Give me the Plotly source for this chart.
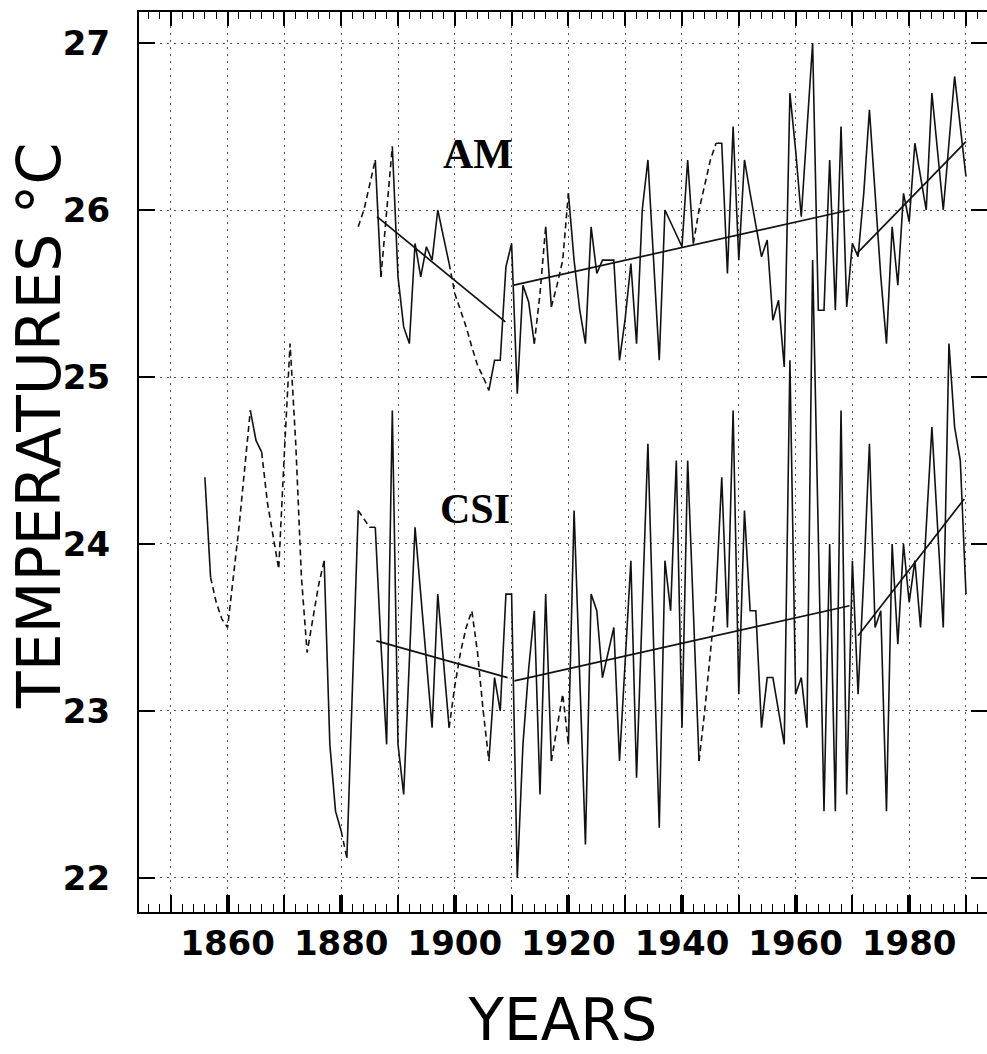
import plotly.graph_objects as go

# ---------------- data ----------------
am_years = list(range(1883, 1991))
am_values = [
    25.90, 26.00, 26.15, 26.30, 25.60, 26.00, 26.38,            # 1883-1889
    25.60, 25.30, 25.20, 25.80, 25.60, 25.78, 25.70, 26.00, 25.85, 25.68,  # 1890-1899
    25.50, 25.40, 25.30, 25.18, 25.07, 25.00, 24.92, 25.10, 25.10, 25.66,  # 1900-1909
    25.80, 24.90, 25.55, 25.45, 25.20, 25.50, 25.90, 25.42, 25.55, 25.70,  # 1910-1919
    26.10, 25.70, 25.40, 25.20, 25.90, 25.62, 25.70, 25.70, 25.70, 25.10,  # 1920-1929
    25.35, 25.68, 25.20, 26.00, 26.30, 25.70, 25.10, 26.00, 25.93, 25.86,  # 1930-1939
    25.78, 26.30, 25.80, 26.00, 26.15, 26.30, 26.40, 26.40, 25.62, 26.50,  # 1940-1949
    25.70, 26.30, 26.10, 25.90, 25.72, 25.82, 25.34, 25.46, 25.06, 26.70,  # 1950-1959
    26.36, 25.96, 26.50, 27.00, 25.40, 25.40, 26.30, 25.40, 26.50, 25.42,  # 1960-1969
    25.80, 25.72, 26.10, 26.60, 26.10, 25.60, 25.20, 25.90, 25.55, 26.10,  # 1970-1979
    25.93, 26.40, 26.20, 26.00, 26.70, 26.35, 26.00, 26.40, 26.80, 26.50,  # 1980-1989
    26.20,                                                                  # 1990
]
am_dashed_spans = [(1883, 1886), (1887, 1889), (1899, 1906), (1914, 1916),
                   (1917, 1920), (1942, 1946)]

csi_years = list(range(1856, 1991))
csi_values = [
    24.40, 23.80, 23.65, 23.55,                                              # 1856-1859
    23.50, 23.80, 24.10, 24.45, 24.80, 24.62, 24.55, 24.25, 24.05, 23.85,  # 1860-1869
    24.55, 25.20, 24.60, 23.80, 23.35, 23.55, 23.75, 23.90, 22.80, 22.40,  # 1870-1879
    22.28, 22.12, 23.10, 24.20, 24.15, 24.10, 24.10, 23.40, 22.80, 24.80,  # 1880-1889
    22.80, 22.50, 23.30, 24.10, 23.70, 23.30, 22.90, 23.70, 23.30, 22.90,  # 1890-1899
    23.15, 23.35, 23.50, 23.60, 23.35, 23.00, 22.70, 23.20, 23.00, 23.70,  # 1900-1909
    23.70, 22.00, 22.80, 23.25, 23.60, 22.50, 23.70, 22.70, 22.90, 23.10,  # 1910-1919
    22.80, 24.20, 23.20, 22.20, 23.70, 23.60, 23.20, 23.35, 23.50, 22.70,  # 1920-1929
    23.30, 23.90, 22.60, 23.60, 24.60, 23.40, 22.30, 23.90, 23.60, 24.50,  # 1930-1939
    22.90, 24.50, 23.60, 22.70, 23.00, 23.35, 23.70, 24.40, 23.50, 24.80,  # 1940-1949
    23.10, 24.20, 23.60, 23.60, 22.90, 23.20, 23.20, 23.00, 22.80, 25.10,  # 1950-1959
    23.10, 23.20, 22.90, 25.70, 24.00, 22.40, 24.00, 22.40, 24.80, 22.50,  # 1960-1969
    23.90, 23.10, 23.80, 24.60, 23.50, 23.60, 22.40, 24.00, 23.40, 24.00,  # 1970-1979
    23.65, 23.90, 23.50, 24.10, 24.70, 24.10, 23.50, 25.20, 24.70, 24.50,  # 1980-1989
    23.70,                                                                  # 1990
]
csi_dashed_spans = [(1857, 1864), (1866, 1877), (1880, 1881), (1883, 1886),
                    (1899, 1906), (1917, 1920), (1943, 1946)]

# piecewise trend lines: (start year, end year), (start value, end value)
am_trend_years = [(1886.3, 1908.9), (1910.4, 1969.5), (1970.8, 1990.0)]
am_trend_values = [(25.96, 25.33), (25.55, 26.00), (25.74, 26.41)]
csi_trend_years = [(1886.2, 1909.3), (1910.5, 1969.5), (1971.0, 1989.7)]
csi_trend_values = [(23.42, 23.20), (23.18, 23.63), (23.45, 24.27)]

x_tick_years = list(range(1850, 1991, 10))
x_label_years = list(range(1860, 1981, 20))
y_ticks = [22, 23, 24, 25, 26, 27]

X_RANGE = [1844.4, 1993.7]
Y_RANGE = [21.796, 27.186]


def split_solid_dashed(years, vals, spans):
    sx, sy, dx, dy = [], [], [], []
    for i in range(len(years) - 1):
        y0, y1 = years[i], years[i + 1]
        dashed = any(a <= y0 and y1 <= b for a, b in spans)
        tx, ty = (dx, dy) if dashed else (sx, sy)
        if tx and tx[-1] == y0:
            tx.append(y1)
            ty.append(vals[i + 1])
        else:
            if tx:
                tx.append(None)
                ty.append(None)
            tx += [y0, y1]
            ty += [vals[i], vals[i + 1]]
    return sx, sy, dx, dy


fig = go.Figure()
LINE_C = "#111111"

for years, vals, spans in [(am_years, am_values, am_dashed_spans),
                           (csi_years, csi_values, csi_dashed_spans)]:
    sx, sy, dx, dy = split_solid_dashed(years, vals, spans)
    fig.add_trace(go.Scatter(x=sx, y=sy, mode="lines", connectgaps=False,
                             line=dict(color=LINE_C, width=1.6),
                             showlegend=False, hoverinfo="skip"))
    fig.add_trace(go.Scatter(x=dx, y=dy, mode="lines", connectgaps=False,
                             line=dict(color=LINE_C, width=1.6, dash="6px,4px"),
                             showlegend=False, hoverinfo="skip"))

for tyears, tvals in [(am_trend_years, am_trend_values),
                      (csi_trend_years, csi_trend_values)]:
    tx, ty = [], []
    for (a, b), (va, vb) in zip(tyears, tvals):
        tx += [a, b, None]
        ty += [va, vb, None]
    fig.add_trace(go.Scatter(x=tx, y=ty, mode="lines",
                             line=dict(color=LINE_C, width=1.7),
                             showlegend=False, hoverinfo="skip"))

# dummy traces so overlay axes (top ticks, bold 20-yr ticks) get drawn
for ax in ["x2", "x3"]:
    fig.add_trace(go.Scatter(x=[1900], y=[24], xaxis=ax, yaxis="y", mode="markers",
                             marker=dict(opacity=0), showlegend=False, hoverinfo="skip"))

# labels for the two curves
fig.add_annotation(x=1904.1, y=26.336, text="AM", showarrow=False,
                   font=dict(family="Liberation Serif", size=42, color="black", weight="bold"))
fig.add_annotation(x=1903.55, y=24.21, text="CSI", showarrow=False,
                   font=dict(family="Liberation Serif", size=42, color="black", weight="bold"))

# vertical axis title (placed as rotated text left of the axis)
fig.add_annotation(xref="paper", yref="paper", x=-0.118, y=0.54,
                   xanchor="center", yanchor="middle", textangle=-90,
                   text="TEMPERATURES °C", showarrow=False,
                   font=dict(family="DejaVu Sans", size=60, color="black"))

tick_font = dict(family="DejaVu Sans", size=34, color="black", weight="bold")
title_font = dict(family="DejaVu Sans", size=58, color="black")
grid_c = "#555555"

fig.update_layout(
    width=987, height=1054,
    margin=dict(l=139, r=0, t=12, b=142, autoexpand=False),
    paper_bgcolor="white", plot_bgcolor="white",
    xaxis=dict(
        range=X_RANGE, tickmode="array", tickvals=x_tick_years,
        ticktext=[str(v) if v in x_label_years else "" for v in x_tick_years],
        ticks="inside", ticklen=17, tickwidth=1.5, tickcolor="black",
        showline=True, linewidth=2, linecolor="black",
        showgrid=True, gridcolor=grid_c, gridwidth=1, griddash="2px,5px",
        zeroline=False, tickfont=tick_font, ticklabelstandoff=0,
        minor=dict(dtick=2, tick0=1850, ticks="inside", ticklen=8, tickwidth=1.2,
                   tickcolor="black", showgrid=False),
        title=dict(text="YEARS", font=title_font, standoff=40),
    ),
    xaxis2=dict(
        range=X_RANGE, overlaying="x", side="top", anchor="y",
        tickmode="array", tickvals=x_tick_years, showticklabels=False,
        ticks="inside", ticklen=14, tickwidth=1.5, tickcolor="black",
        showline=True, linewidth=2, linecolor="black", showgrid=False, zeroline=False,
        minor=dict(dtick=2, tick0=1850, ticks="inside", ticklen=7, tickwidth=1.2,
                   tickcolor="black", showgrid=False),
    ),
    xaxis3=dict(
        range=X_RANGE, overlaying="x", side="bottom", anchor="y",
        tickmode="array", tickvals=x_label_years, showticklabels=False,
        ticks="inside", ticklen=17, tickwidth=4, tickcolor="black",
        showline=False, showgrid=False, zeroline=False,
    ),
    yaxis=dict(
        range=Y_RANGE, tickmode="array", tickvals=y_ticks,
        ticks="inside", ticklen=16, tickwidth=1.5, tickcolor="black",
        showline=True, linewidth=2, linecolor="black", mirror="ticks",
        showgrid=True, gridcolor=grid_c, gridwidth=1, griddash="2px,5px",
        zeroline=False, tickfont=tick_font, ticklabelstandoff=20,
    ),
)

fig.write_html("out.html")
